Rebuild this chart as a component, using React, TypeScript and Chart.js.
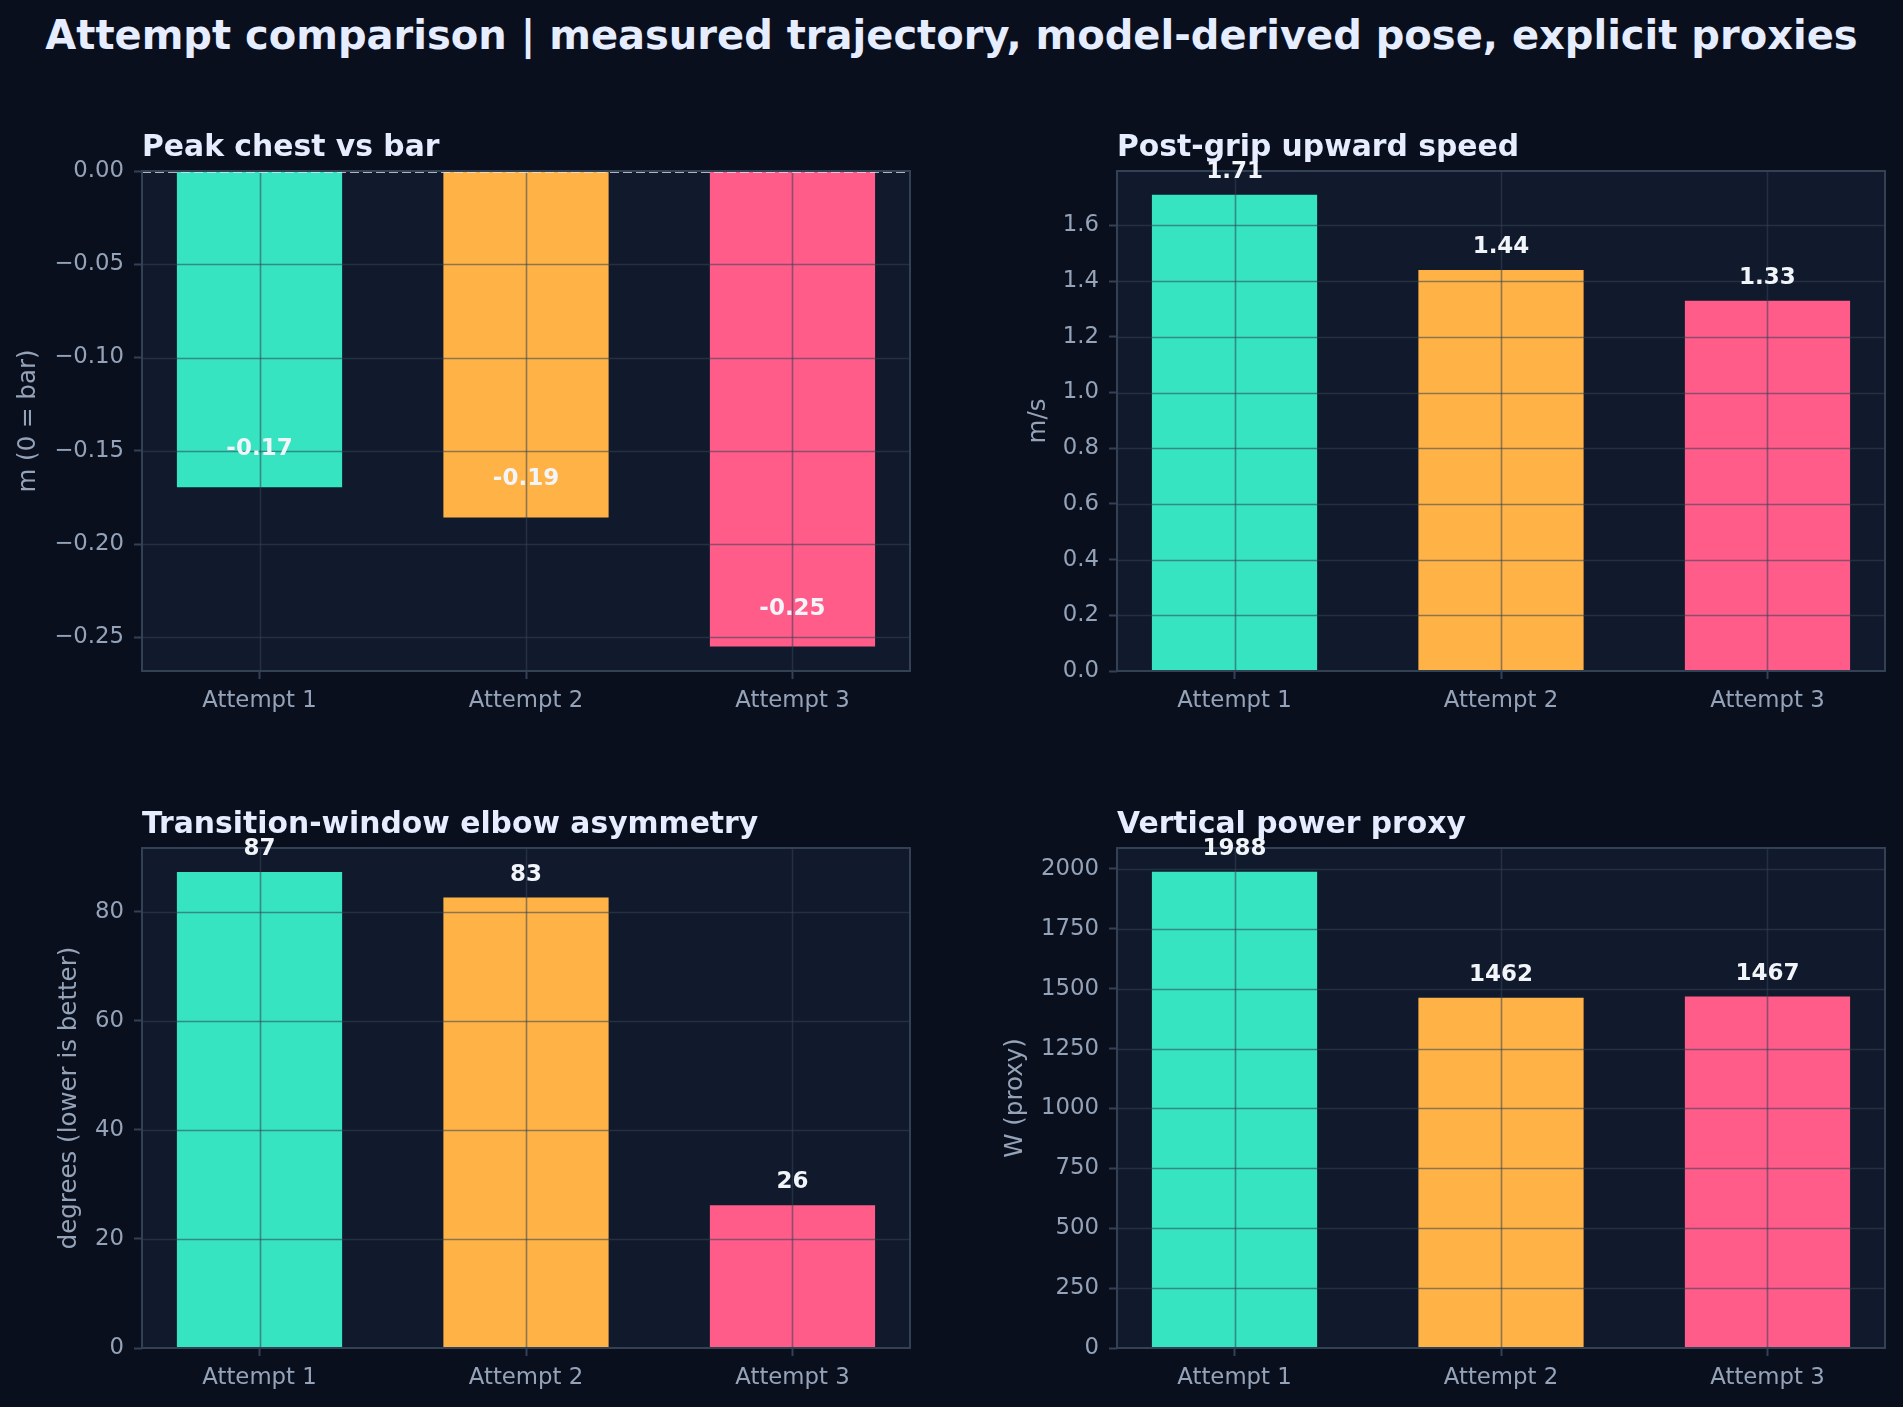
import React, { useEffect, useRef } from 'react';
import { Chart, registerables } from 'chart.js';

Chart.register(...registerables);

// ---------------- data ----------------
const categories = ['Attempt 1', 'Attempt 2', 'Attempt 3'];
const barColors = ['#36e4c1', '#ffb347', '#ff5c8a'];

const chestVsBar = [-0.1695, -0.1857, -0.2549];
const gripSpeed = [1.71, 1.44, 1.33];
const elbowAsymmetry = [87.3, 82.6, 26.2];
const powerProxy = [1988, 1462, 1467];

const chestTicks = [0, -0.05, -0.1, -0.15, -0.2, -0.25];
const speedTicks = [0, 0.2, 0.4, 0.6, 0.8, 1.0, 1.2, 1.4, 1.6];
const elbowTicks = [0, 20, 40, 60, 80];
const powerTicks = [0, 250, 500, 750, 1000, 1250, 1500, 1750, 2000];

const MAIN_TITLE = 'Attempt comparison | measured trajectory, model-derived pose, explicit proxies';

// ---------------- styling ----------------
const FONT = "'DejaVu Sans', 'Liberation Sans', sans-serif";
const PAGE_BG = '#0a0f1e';
const PLOT_BG = '#111a2c';
const SPINE = '#334155';
const GRID = 'rgba(51,65,85,0.55)';
const TICK_COLOR = '#94a3b8';
const TITLE_COLOR = '#e5edff';
const LABEL_COLOR = '#f1f5f9';
const BAR_WIDTH = 0.62;
const TICK_SIZE = 22.8;

type PanelSpec = {
  title: string;
  yLabel: string;
  values: number[];
  ticks: number[];
  yMin: number;
  yMax: number;
  labelDecimals: number;
  tickDecimals: number;
  zeroLine?: boolean;
  // layout (page coordinates)
  cx: number; cy: number; cw: number; ch: number;
  L: number; T: number; R: number; B: number;
  yTitlePad: number;
};

const fmtTick = (v: number, d: number) => v.toFixed(d).replace('-', '\u2212');

function PanelChart({ spec }: { spec: PanelSpec }) {
  const ref = useRef<HTMLCanvasElement | null>(null);
  useEffect(() => {
    if (!ref.current) return;
    const s = spec;
    const xMin = -BAR_WIDTH / 2 - 0.05 * (categories.length - 1 + BAR_WIDTH);
    const xMax = categories.length - 1 + BAR_WIDTH / 2 + 0.05 * (categories.length - 1 + BAR_WIDTH);
    const yAxisWidth = s.L - s.cx;
    const xAxisHeight = s.cy + s.ch - s.B;

    const overlay = {
      id: 'overlay',
      beforeDraw(chart: any) {
        const { ctx, chartArea: a } = chart;
        ctx.save();
        ctx.fillStyle = PLOT_BG;
        ctx.fillRect(a.left, a.top, a.right - a.left, a.bottom - a.top);
        ctx.restore();
      },
      afterDatasetsDraw(chart: any) {
        const { ctx, chartArea: a } = chart;
        const xs = chart.scales.x;
        const ys = chart.scales.y;
        ctx.save();
        // grid on top of bars
        ctx.strokeStyle = GRID;
        ctx.lineWidth = 1.6;
        ys.ticks.forEach((t: any) => {
          const y = Math.round(ys.getPixelForValue(t.value)) + 0.5;
          if (y < a.top + 1 || y > a.bottom - 1) return;
          ctx.beginPath();
          ctx.moveTo(a.left, y);
          ctx.lineTo(a.right, y);
          ctx.stroke();
        });
        xs.ticks.forEach((t: any) => {
          const x = Math.round(xs.getPixelForValue(t.value)) + 0.5;
          ctx.beginPath();
          ctx.moveTo(x, a.top);
          ctx.lineTo(x, a.bottom);
          ctx.stroke();
        });
        // zero reference line
        if (s.zeroLine) {
          const y0 = ys.getPixelForValue(0);
          ctx.strokeStyle = 'rgba(226,232,240,0.75)';
          ctx.lineWidth = 1.8;
          ctx.setLineDash([9, 4]);
          ctx.beginPath();
          ctx.moveTo(a.left, y0 + 1);
          ctx.lineTo(a.right, y0 + 1);
          ctx.stroke();
          ctx.setLineDash([]);
        }
        // spines
        ctx.strokeStyle = SPINE;
        ctx.lineWidth = 2;
        ctx.strokeRect(a.left, a.top, a.right - a.left, a.bottom - a.top);
        // value labels
        const meta = chart.getDatasetMeta(0);
        ctx.fillStyle = LABEL_COLOR;
        ctx.font = `bold 23px ${FONT}`;
        ctx.textAlign = 'center';
        ctx.textBaseline = 'middle';
        meta.data.forEach((bar: any, i: number) => {
          const v = s.values[i];
          const txt = v.toFixed(s.labelDecimals);
          const y = v >= 0 ? bar.y - 23 : bar.y - 38;
          ctx.fillText(txt, bar.x, y);
        });
        ctx.restore();
      },
      afterDraw(chart: any) {
        const { ctx, chartArea: a } = chart;
        ctx.save();
        ctx.fillStyle = TITLE_COLOR;
        ctx.font = `bold 29.8px ${FONT}`;
        ctx.textAlign = 'left';
        ctx.textBaseline = 'alphabetic';
        ctx.fillText(s.title, a.left, a.top - 15);
        ctx.restore();
      },
    };

    const chart = new Chart(ref.current, {
      type: 'bar',
      data: {
        datasets: [
          {
            data: s.values.map((v, i) => ({ x: i, y: v })),
            backgroundColor: barColors,
            borderWidth: 0,
            barPercentage: BAR_WIDTH,
            categoryPercentage: 1,
          },
        ],
      },
      options: {
        responsive: false,
        animation: false,
        events: [],
        layout: { padding: { left: 0, top: s.T - s.cy, right: s.cx + s.cw - s.R, bottom: 0 } },
        plugins: { legend: { display: false }, tooltip: { enabled: false }, title: { display: false } },
        scales: {
          x: {
            type: 'linear',
            min: xMin,
            max: xMax,
            offset: false,
            afterBuildTicks: (sc: any) => {
              sc.ticks = categories.map((_, i) => ({ value: i }));
            },
            afterFit: (sc: any) => {
              sc.height = xAxisHeight;
            },
            ticks: {
              color: TICK_COLOR,
              font: { family: FONT, size: TICK_SIZE },
              padding: 8,
              autoSkip: false,
              maxRotation: 0,
              callback: (v: any) => categories[Math.round(Number(v))] ?? '',
            },
            grid: {
              display: true,
              offset: false,
              drawOnChartArea: false,
              drawTicks: true,
              tickLength: 8,
              color: SPINE,
              tickWidth: 2,
            },
            border: { display: false },
          },
          y: {
            type: 'linear',
            min: s.yMin,
            max: s.yMax,
            afterBuildTicks: (sc: any) => {
              sc.ticks = s.ticks.map((v) => ({ value: v }));
            },
            afterFit: (sc: any) => {
              sc.width = yAxisWidth;
            },
            ticks: {
              color: TICK_COLOR,
              font: { family: FONT, size: TICK_SIZE },
              padding: 10,
              autoSkip: false,
              callback: (v: any) => fmtTick(Number(v), s.tickDecimals),
            },
            grid: {
              display: true,
              drawOnChartArea: false,
              drawTicks: true,
              tickLength: 8,
              color: SPINE,
              tickWidth: 2,
            },
            border: { display: false },
            title: {
              display: true,
              text: s.yLabel,
              color: TICK_COLOR,
              font: { family: FONT, size: 24.5 },
              padding: { top: s.yTitlePad, bottom: 0 },
            },
          },
        },
      },
      plugins: [overlay],
    } as any);
    return () => chart.destroy();
  }, [spec]);

  return (
    <canvas
      ref={ref}
      width={spec.cw}
      height={spec.ch}
      style={{ position: 'absolute', left: spec.cx, top: spec.cy, width: spec.cw, height: spec.ch }}
    />
  );
}

const panels: PanelSpec[] = [
  {
    title: 'Peak chest vs bar',
    yLabel: 'm (0 = bar)',
    values: chestVsBar,
    ticks: chestTicks,
    yMin: -0.268,
    yMax: 0,
    labelDecimals: 2,
    tickDecimals: 2,
    zeroLine: true,
    cx: 0, cy: 100, cw: 951, ch: 640,
    L: 142, T: 171, R: 910, B: 671,
    yTitlePad: 14,
  },
  {
    title: 'Post-grip upward speed',
    yLabel: 'm/s',
    values: gripSpeed,
    ticks: speedTicks,
    yMin: 0,
    yMax: 1.7955,
    labelDecimals: 2,
    tickDecimals: 1,
    cx: 951, cy: 100, cw: 952, ch: 640,
    L: 1117, T: 171, R: 1885, B: 671,
    yTitlePad: 73,
  },
  {
    title: 'Transition-window elbow asymmetry',
    yLabel: 'degrees (lower is better)',
    values: elbowAsymmetry,
    ticks: elbowTicks,
    yMin: 0,
    yMax: 91.7,
    labelDecimals: 0,
    tickDecimals: 0,
    cx: 0, cy: 777, cw: 951, ch: 630,
    L: 142, T: 848, R: 910, B: 1348,
    yTitlePad: 55,
  },
  {
    title: 'Vertical power proxy',
    yLabel: 'W (proxy)',
    values: powerProxy,
    ticks: powerTicks,
    yMin: 0,
    yMax: 2087.4,
    labelDecimals: 0,
    tickDecimals: 0,
    cx: 951, cy: 777, cw: 952, ch: 630,
    L: 1117, T: 848, R: 1885, B: 1348,
    yTitlePad: 50,
  },
];

export default function App() {
  useEffect(() => {
    document.body.style.margin = '0';
    document.body.style.background = PAGE_BG;
  }, []);
  return (
    <div style={{ position: 'relative', width: 1903, height: 1407, background: PAGE_BG, overflow: 'hidden' }}>
      <div
        style={{
          position: 'absolute',
          left: 0,
          top: 15,
          width: 1903,
          textAlign: 'center',
          fontFamily: FONT,
          fontWeight: 'bold',
          fontSize: 40,
          lineHeight: '40px',
          color: TITLE_COLOR,
          whiteSpace: 'nowrap',
        }}
      >
        {MAIN_TITLE}
      </div>
      {panels.map((p, i) => (
        <PanelChart key={i} spec={p} />
      ))}
    </div>
  );
}
